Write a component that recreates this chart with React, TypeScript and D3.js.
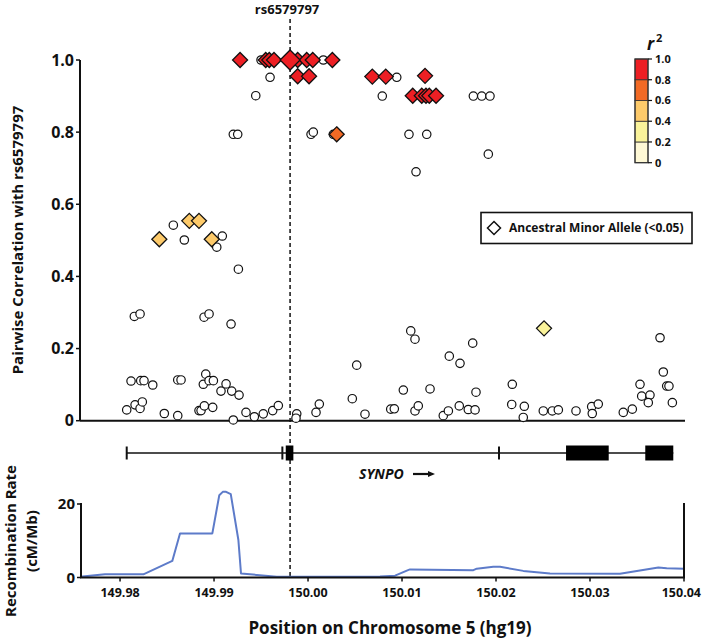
import React from 'react';
import * as d3 from 'd3';

// ---------- DATA ----------
const indexSnp: [number, number] = [149.99809, 1.0];
const indexLabel = 'rs6579797';

// white circles: [position (Mb), r2]
const circleSnps: [number, number][] = [
  [149.995, 1.0], [150.00163, 1.0], [149.99596, 0.952], [149.99444, 0.901], [149.99205, 0.794], [149.99252, 0.794],
  [150.00032, 0.794], [150.00056, 0.8], [150.00269, 0.794], [150.00944, 0.952], [150.0079, 0.9], [150.01759, 0.9],
  [150.01848, 0.9], [150.01936, 0.9], [150.01074, 0.794], [150.01263, 0.794], [150.01918, 0.739], [150.01149, 0.69],
  [149.98567, 0.542], [149.98684, 0.501], [149.99088, 0.512], [149.99029, 0.481], [149.99259, 0.42], [149.98152, 0.289],
  [149.98213, 0.296], [149.98894, 0.287], [149.98947, 0.296], [149.99181, 0.268],
  [149.98117, 0.11], [149.9822, 0.111], [149.98255, 0.111], [149.98348, 0.099], [149.98614, 0.113], [149.98649, 0.113],
  [149.98912, 0.129], [149.98886, 0.101], [149.98947, 0.111], [149.98993, 0.111], [149.99128, 0.102], [149.99074, 0.082],
  [149.99188, 0.082], [149.99266, 0.071], [150.00518, 0.154],
  [149.98071, 0.03], [149.9816, 0.044], [149.98213, 0.034], [149.98237, 0.052], [149.98471, 0.02], [149.98614, 0.014],
  [149.9884, 0.028], [149.98862, 0.028], [149.98897, 0.041], [149.98986, 0.037], [149.99205, 0.002], [149.9934, 0.023],
  [149.99429, 0.011], [149.99524, 0.019], [149.99624, 0.028], [149.99684, 0.042], [149.9988, 0.019], [149.99872, 0.007],
  [150.00085, 0.023], [150.0012, 0.046], [150.00471, 0.061],
  [150.01093, 0.249], [150.01138, 0.226], [150.01752, 0.215], [150.01503, 0.179], [150.01617, 0.159], [150.03745, 0.23],
  [150.0378, 0.135], [150.03816, 0.096], [150.0384, 0.096], [150.03532, 0.101], [150.0355, 0.068], [150.03638, 0.071],
  [150.0362, 0.05], [150.03876, 0.05], [150.0345, 0.032], [150.03354, 0.023], [150.00606, 0.018], [150.01014, 0.085],
  [150.0088, 0.032], [150.00918, 0.033], [150.01138, 0.027], [150.01173, 0.041], [150.01298, 0.088], [150.01439, 0.014],
  [150.01493, 0.027], [150.01609, 0.041], [150.01705, 0.031], [150.01777, 0.03], [150.01787, 0.079], [150.02173, 0.101],
  [150.02167, 0.045], [150.02301, 0.04], [150.0229, 0.009], [150.02503, 0.027], [150.02599, 0.027], [150.02663, 0.03],
  [150.02851, 0.027], [150.03018, 0.039], [150.03088, 0.046], [150.03024, 0.02],
];

// ancestral minor allele diamonds: [position (Mb), r2]
const diamondSnps: [number, number][] = [
  [149.99277, 1.0], [149.9955, 1.0], [149.99588, 1.0], [149.99638, 1.0], [149.9989, 1.0], [149.99986, 1.0],
  [150.0005, 1.0], [150.00259, 1.0], [149.9989, 0.955], [150.00011, 0.955], [150.00305, 0.794], [150.00684, 0.954],
  [150.00827, 0.954], [150.01245, 0.956], [150.01114, 0.901], [150.0121, 0.901], [150.01255, 0.901], [150.0129, 0.901],
  [150.01362, 0.901], [149.98737, 0.554], [149.9884, 0.554], [149.98418, 0.503], [149.98976, 0.503], [150.02511, 0.256],
];

// recombination rate: [position (Mb), cM/Mb]
const recombRate: [number, number][] = [
  [149.97574, 0.2], [149.9784, 0.87], [149.98248, 0.87], [149.98556, 4.5], [149.98638, 12.0], [149.98982, 12.0],
  [149.99056, 22.4], [149.99093, 23.3], [149.99128, 23.3], [149.99178, 22.7], [149.99259, 10.2], [149.99287, 1.1],
  [149.99667, 0.2], [150.00766, 0.3], [150.00926, 0.5], [150.01064, 2.0], [150.01085, 2.2], [150.01759, 2.0],
  [150.01795, 2.4], [150.01971, 2.9], [150.02043, 2.9], [150.0229, 1.8], [150.02574, 1.1], [150.03319, 1.0],
  [150.03727, 2.7], [150.03816, 2.5], [150.04, 2.4],
];

// gene model (SYNPO)
const geneName = 'SYNPO';
const geneSpan: [number, number] = [149.98071, 150.03886];
const geneThinMarks: number[] = [149.98071, 149.99727, 150.02032];
const geneExons: [number, number][] = [
  [149.99763, 149.99844], [150.02745, 150.03199], [150.03588, 150.03886],
];

const xTicks = [149.98, 149.99, 150.0, 150.01, 150.02, 150.03, 150.04];
const r2Ticks = [0, 0.2, 0.4, 0.6, 0.8, 1.0];
const recTicks = [0, 20];
const legendBins = [0, 0.2, 0.4, 0.6, 0.8, 1.0];
const binColors = ['#FEF8D5', '#FAF39A', '#FDCA6A', '#F26A25', '#ED1F24'];

const FONT = '"Open Sans", "Noto Sans", sans-serif';

export default function App() {
  const W = 702, H = 641;
  const x = d3.scaleLinear().domain([149.97574, 150.04]).range([80, 684]);
  const y = d3.scaleLinear().domain([0, 1]).range([420.7, 60]);
  const yr = d3.scaleLinear().domain([0, 20]).range([577.5, 504]);
  const color = d3.scaleThreshold<number, string>().domain([0.2, 0.4, 0.6, 0.8]).range(binColors);
  const lb = d3.scaleLinear().domain([0, 1]).range([162.7, 59]);

  const line = d3.line<[number, number]>().x(d => x(d[0])).y(d => yr(d[1]));
  const diamond = (cx: number, cy: number, h: number) =>
    `M${cx},${cy - h}L${cx + h},${cy}L${cx},${cy + h}L${cx - h},${cy}Z`;

  const geneY = 453;
  const fmtX = d3.format('.2f');
  const fmtR = (v: number) => (v === 0 ? '0' : d3.format('.1f')(v));

  return (
    <svg width={W} height={H} style={{ position: 'absolute', left: 0, top: 0, background: '#fff' }}
      fontFamily={FONT} fontWeight={700}>
      <rect x={0} y={0} width={W} height={H} fill="#fff" />

      {/* index SNP label and dashed line */}
      <text x={x(indexSnp[0]) - 3} y={14} fontSize={13} textAnchor="middle" fill="#111">{indexLabel}</text>
      <line x1={x(indexSnp[0])} x2={x(indexSnp[0])} y1={19} y2={577} stroke="#111" strokeWidth={1.5} strokeDasharray="4,3" />

      {/* top panel axes */}
      <line x1={80} x2={80} y1={y(1)} y2={y(0)} stroke="#111" strokeWidth={2} />
      <line x1={80} x2={685} y1={y(0)} y2={y(0)} stroke="#111" strokeWidth={2} />
      {r2Ticks.map(t => (
        <g key={t}>
          <line x1={76} x2={80} y1={y(t)} y2={y(t)} stroke="#111" strokeWidth={1.5} />
          <text x={74} y={y(t)} dy="0.36em" fontSize={16} textAnchor="end" fill="#111">{fmtR(t)}</text>
        </g>
      ))}
      <text transform={`translate(23,${240}) rotate(-90)`} fontSize={15} textAnchor="middle" fill="#111">
        Pairwise Correlation with {indexLabel}
      </text>

      {/* points */}
      {circleSnps.map((d, i) => (
        <circle key={'c' + i} cx={x(d[0])} cy={y(d[1])} r={4.2} fill="#fff" stroke="#111" strokeWidth={1.2} />
      ))}
      {diamondSnps.map((d, i) => (
        <path key={'d' + i} d={diamond(x(d[0]), y(d[1]), 7.5)} fill={color(d[1])} stroke="#111" strokeWidth={1.3} strokeLinejoin="miter" />
      ))}
      <path d={diamond(x(indexSnp[0]), y(indexSnp[1]), 10)} fill={color(indexSnp[1])} stroke="#111" strokeWidth={1.3} />

      {/* r2 colour legend */}
      <text x={647} y={50} fontSize={17} fontStyle="italic" textAnchor="start" fill="#111">r</text>
      <text x={656} y={42} fontSize={11} fill="#111">2</text>
      {binColors.map((c, i) => (
        <rect key={c} x={635} y={lb(legendBins[i + 1])} width={13} height={lb(legendBins[i]) - lb(legendBins[i + 1])}
          fill={c} stroke="#333" strokeWidth={0.8} />
      ))}
      <rect x={635} y={lb(1)} width={13} height={lb(0) - lb(1)} fill="none" stroke="#333" strokeWidth={1.2} />
      {legendBins.map(t => (
        <g key={'lb' + t}>
          <line x1={648} x2={652} y1={lb(t)} y2={lb(t)} stroke="#111" strokeWidth={1.2} />
          <text x={655} y={lb(t)} dy="0.36em" fontSize={11} fill="#111">{fmtR(t)}</text>
        </g>
      ))}

      {/* shape legend */}
      <rect x={481} y={212.5} width={211} height={31} fill="#fff" stroke="#111" strokeWidth={1.6} />
      <path d={diamond(494, 228, 6.5)} fill="#fff" stroke="#111" strokeWidth={1.5} />
      <text x={509} y={228} dy="0.36em" fontSize={12} fill="#111">Ancestral Minor Allele (&lt;0.05)</text>

      {/* gene track */}
      <line x1={x(geneSpan[0])} x2={x(geneSpan[1])} y1={geneY} y2={geneY} stroke="#111" strokeWidth={1.5} />
      {geneThinMarks.map(p => (
        <line key={'t' + p} x1={x(p)} x2={x(p)} y1={geneY - 6.5} y2={geneY + 6.5} stroke="#111" strokeWidth={2} />
      ))}
      {geneExons.map(e => (
        <rect key={'e' + e[0]} x={x(e[0])} y={geneY - 7.5} width={x(e[1]) - x(e[0])} height={15} fill="#000" />
      ))}
      <text x={359} y={479} fontSize={14} fontStyle="italic" fill="#111">{geneName}</text>
      <line x1={413} x2={430} y1={474} y2={474} stroke="#111" strokeWidth={2.2} />
      <path d="M428,471 L435,474 L428,477 Z" fill="#111" />

      {/* recombination panel */}
      <path d={line(recombRate) || ''} fill="none" stroke="#5D7BC9" strokeWidth={2} strokeLinejoin="round" />
      <line x1={81} x2={81} y1={503} y2={yr(0)} stroke="#111" strokeWidth={2} />
      <line x1={684} x2={684} y1={503} y2={yr(0)} stroke="#111" strokeWidth={2} />
      <line x1={80} x2={685} y1={yr(0)} y2={yr(0)} stroke="#111" strokeWidth={2} />
      {recTicks.map(t => (
        <g key={'r' + t}>
          <line x1={77} x2={81} y1={yr(t)} y2={yr(t)} stroke="#111" strokeWidth={1.5} />
          <text x={75} y={yr(t)} dy="0.36em" fontSize={15} textAnchor="end" fill="#111">{t}</text>
        </g>
      ))}
      {xTicks.map((t, i) => (
        <g key={'x' + t}>
          <line x1={x(t)} x2={x(t)} y1={yr(0)} y2={yr(0) + 4} stroke="#111" strokeWidth={1.5} />
          <text x={i === xTicks.length - 1 ? 701 : x(t)} y={597} fontSize={12.5}
            textAnchor={i === xTicks.length - 1 ? 'end' : 'middle'} fill="#111">{fmtX(t)}</text>
        </g>
      ))}
      <text transform="translate(16,541) rotate(-90)" fontSize={15} textAnchor="middle" fill="#111">Recombination Rate</text>
      <text transform="translate(37,541) rotate(-90)" fontSize={15} textAnchor="middle" fill="#111">(cM/Mb)</text>
      <text x={390} y={634} fontSize={17} textAnchor="middle" fill="#111">Position on Chromosome 5 (hg19)</text>
    </svg>
  );
}
